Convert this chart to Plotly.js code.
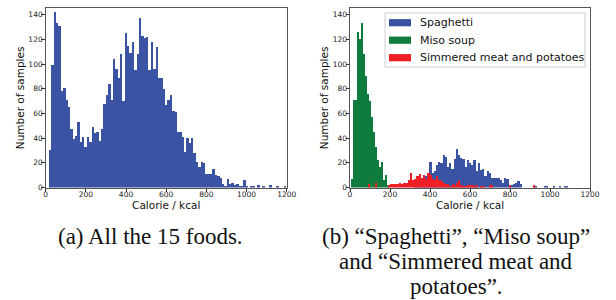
<!DOCTYPE html>
<html>
<head>
<meta charset="utf-8">
<script src="https://cdn.plot.ly/plotly-3.0.1.min.js"></script>
<style>
html,body{margin:0;padding:0;background:#fff;}
#chart{width:616px;height:300px;}
</style>
</head>
<body>
<div id="chart"></div>
<script>
// ---------- data ----------
// (a) all 15 foods: 100 bins
const allStart = 16, allWidth = 11.8;
const allCounts = [30,99,142,133,131,78,81,71,65,47,39,42,53,37,41,33,41,37,49,44,
  45,38,47,68,75,84,71,104,96,89,108,70,125,115,109,118,95,108,137,123,
  121,122,95,118,96,114,89,89,80,67,71,75,62,61,45,45,41,29,40,36,
  40,28,21,17,21,20,11,11,11,15,10,9,8,3,1,7,3,4,2,3,
  1,1,6,1,0,1,1,0,2,0,1,0,0,2,0,0,1,0,0,1];

// (b) Spaghetti
const spaStart = 320, spaWidth = 11;
const spaCounts = [5,6,4,7,8,9,12,21,12,13,18,21,20,26,25,17,20,15,23,31,
  26,24,23,17,22,20,18,22,13,20,14,15,9,13,12,8,8,8,8,6,
  4,8,7,2,2,3,4,5,3,0,0,0,0,0,1,1,0,0,0,1,
  1,0,0,1,0,0,1,0,1,1];
// (b) Miso soup
const misoStart = 5, misoWidth = 10.1;
const misoCounts = [7,71,71,126,120,133,108,90,76,70,57,45,33,22,17,21,6,10,2];
// (b) Simmered meat and potatoes
const nikuStart = 90, nikuWidth = 11;
const nikuCounts = [3,0,0,4,0,0,0,0,0,2,3,3,3,3,4,3,4,4,6,12,
  6,7,9,11,8,10,7,12,10,7,6,9,6,5,4,3,3,1,3,2,
  4,6,2,1,1,2,2,2,1,2,0,1,1,0,0,2,2,0,0,0,
  0,0,0,0,2,0,0,0,0,0,0,0,0,0,0,2,0];

const seriesNames = ["Spaghetti", "Miso soup", "Simmered meat and potatoes"];
const xTicks = [0,200,400,600,800,1000,1200];
const yTicks = [0,20,40,60,80,100,120,140];
const captionA = "(a) All the 15 foods.";
const captionB = ["(b) \u201cSpaghetti\u201d, \u201cMiso soup\u201d", "and \u201cSimmered meat and", "potatoes\u201d."];

// ---------- build ----------
function centers(start, width, n){ const c=[]; for(let i=0;i<n;i++) c.push(start+width*(i+0.5)); return c; }

const BLUE='#3a53a3', GREEN='#0f7b3d', RED='#ee1f25';
const seriesColors=[BLUE, GREEN, RED];

const traces = [
  {type:'bar', x:centers(allStart,allWidth,allCounts.length), y:allCounts, width:allWidth,
   marker:{color:BLUE, line:{width:0}}, xaxis:'x', yaxis:'y', name:'All'},
  {type:'bar', x:centers(spaStart,spaWidth,spaCounts.length), y:spaCounts, width:spaWidth,
   marker:{color:BLUE, line:{width:0}}, xaxis:'x2', yaxis:'y2', name:seriesNames[0]},
  {type:'bar', x:centers(misoStart,misoWidth,misoCounts.length), y:misoCounts, width:misoWidth,
   marker:{color:GREEN, line:{width:0}}, xaxis:'x2', yaxis:'y2', name:seriesNames[1]},
  {type:'bar', x:centers(nikuStart,nikuWidth,nikuCounts.length), y:nikuCounts, width:nikuWidth,
   marker:{color:RED, line:{width:0}}, xaxis:'x2', yaxis:'y2', name:seriesNames[2]}
];

const W=616, H=300;
const px=v=>v/W, py=v=>1-v/H;
const yDom=[py(187.5), py(8.3)];
const tickFont={family:'DejaVu Sans', size:7.5, color:'#222'};
const titleFont={family:'DejaVu Sans', size:10.5, color:'#111'};
function xAx(dom, anchor){
  return {domain:dom, anchor:anchor, range:[0,1200], tickmode:'array', tickvals:xTicks,
    ticks:'outside', ticklen:3.5, tickwidth:1, tickcolor:'#333', showline:true, linecolor:'#555', linewidth:1,
    mirror:true, showgrid:false, zeroline:false, tickfont:tickFont, ticklabelstandoff:-4,
    title:{text:'Calorie / kcal', font:titleFont, standoff:2}};
}
function yAx(anchor){
  return {domain:yDom, anchor:anchor, range:[0,145.2], tickmode:'array', tickvals:yTicks,
    ticks:'outside', ticklen:3.5, tickwidth:1, tickcolor:'#333', showline:true, linecolor:'#555', linewidth:1,
    mirror:true, showgrid:false, zeroline:false, tickfont:tickFont, ticklabelstandoff:-3,
    title:{text:'Number of samples', font:titleFont, standoff:1}};
}

// legend (matplotlib style: frame, wide patches)
const legShapes=[{type:'rect', xref:'paper', yref:'paper', x0:px(385), x1:px(585), y0:py(67), y1:py(13),
  line:{color:'#cccccc', width:1}, fillcolor:'rgba(255,255,255,0.85)', layer:'above'}];
const legAnn=[];
seriesNames.forEach((n,i)=>{
  const yc=22.7+17.5*i;
  legShapes.push({type:'rect', xref:'paper', yref:'paper', x0:px(389), x1:px(411), y0:py(yc+3.6), y1:py(yc-3.6),
    line:{width:0}, fillcolor:seriesColors[i], layer:'above'});
  legAnn.push({text:n, xref:'paper', yref:'paper', x:px(418), y:py(yc), xanchor:'left', yanchor:'middle',
    showarrow:false, font:{family:'DejaVu Sans', size:11, color:'#111'}});
});

const capFont={family:'Liberation Serif', size:23, color:'#111'};
const capAnn=[
  {text:captionA, xref:'paper', yref:'paper', x:px(150), y:py(236), showarrow:false, xanchor:'center', yanchor:'middle', font:capFont}
];
captionB.forEach((t,i)=>capAnn.push({text:t, xref:'paper', yref:'paper', x:px(456), y:py(236+25.4*i),
  showarrow:false, xanchor:'center', yanchor:'middle', font:capFont}));

const layout = {
  width:W, height:H, margin:{l:0,r:0,t:0,b:0}, paper_bgcolor:'#fff', plot_bgcolor:'#fff',
  barmode:'overlay', bargap:0, showlegend:false,
  xaxis:xAx([px(45.7), px(286.7)],'y'), yaxis:yAx('x'),
  xaxis2:xAx([px(350), px(590)],'y2'), yaxis2:yAx('x2'),
  shapes:legShapes,
  annotations:legAnn.concat(capAnn)
};

Plotly.newPlot('chart', traces, layout, {displayModeBar:false, staticPlot:true});
</script>
</body>
</html>
